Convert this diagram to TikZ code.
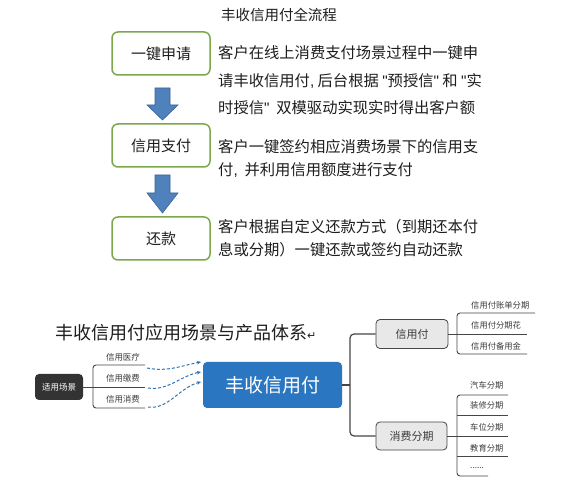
\documentclass[tikz,border=0pt]{standalone}
\usepackage{fontspec}
\setmainfont{Noto Sans CJK SC}
\newfontfamily\qf{Liberation Sans}
\newfontfamily\symf{DejaVu Sans}
\usetikzlibrary{arrows.meta}
\definecolor{gborder}{RGB}{122,168,74}
\definecolor{barrow}{RGB}{79,129,189}
\definecolor{barrowd}{RGB}{58,100,150}
\definecolor{bigblue}{RGB}{43,118,193}
\definecolor{dashblue}{RGB}{46,117,182}
\definecolor{darkbox}{RGB}{51,51,51}
\definecolor{lgray}{RGB}{232,232,232}
\definecolor{conncol}{RGB}{70,70,70}
\definecolor{txt}{RGB}{30,30,30}
\definecolor{stxt}{RGB}{60,60,60}
\newcommand{\dq}{{\qf\symbol{34}}}
\begin{document}
\begin{tikzpicture}[x=1pt,y=-1pt,
  greenbox/.style={draw=gborder,line width=1.5pt,rounded corners=6pt,fill=white,
    minimum width=98pt,minimum height=43pt,inner sep=0pt,text=txt,font=\fontsize{15}{18}\selectfont},
  desc/.style={anchor=west,inner sep=0pt,text=txt,font=\fontsize{15.3}{18}\selectfont},
  blockarrow/.style={fill=barrow,draw=barrowd,line width=0.6pt},
  conn/.style={draw=conncol,line width=1.2pt},
  thinconn/.style={draw=conncol,line width=0.9pt},
  slabel/.style={inner sep=0pt,text=stxt,font=\fontsize{8.5}{10}\selectfont},
  rlabel/.style={anchor=west,inner sep=0pt,text=stxt,font=\fontsize{8.3}{10}\selectfont},
  graybox/.style={draw=conncol,fill=lgray,line width=0.8pt,rounded corners=4pt,inner sep=0pt,
    text=stxt,font=\fontsize{11}{13}\selectfont},
  dasharrow/.style={draw=dashblue,line width=1pt,dash pattern=on 3pt off 2pt,-{Stealth[length=4pt,width=3.5pt]}}
]
\useasboundingbox (0,0) rectangle (566,484);
\fill[white] (0,0) rectangle (566,484);

% ---------- top part ----------
\node[inner sep=0pt,text=txt,font=\fontsize{14.5}{17}\selectfont] (t1) at (279,15) {丰收信用付全流程};

\node[greenbox] (b1) at (161,53.5) {一键申请};
\node[greenbox] (b2) at (161,145.5) {信用支付};
\node[greenbox] (b3) at (161,238.5) {还款};

\draw[blockarrow] (155,88) -- (170,88) -- (170,105) -- (178,105) -- (162.5,120) -- (147,105) -- (155,105) -- cycle;
\draw[blockarrow] (155,175) -- (170,175) -- (170,193) -- (178,193) -- (162.5,213) -- (147,193) -- (155,193) -- cycle;

\node[desc] (d11) at (218,53) {客户在线上消费支付场景过程中一键申};
\node[desc] (d12) at (218,81) {请丰收信用付{\qf,} 后台根据 \dq 预授信\dq\ 和 \dq 实};
\node[desc] (d13) at (218,108) {时授信\dq\ \ 双模驱动实现实时得出客户额};
\node[desc] (d21) at (218,146.5) {客户一键签约相应消费场景下的信用支};
\node[desc] (d22) at (218,170) {付{\qf,}\ \ 并利用信用额度进行支付};
\node[desc] (d31) at (218,226.5) {客户根据自定义还款方式（到期还本付};
\node[desc] (d32) at (218,250) {息或分期）一键还款或签约自动还款};

% ---------- bottom part ----------
\node[anchor=west,inner sep=0pt,text=txt,font=\fontsize{18}{21}\selectfont] (t2) at (55,333) {丰收信用付应用场景与产品体系{\symf\fontsize{11}{12}\selectfont ↵}};

% left
\node[fill=darkbox,rounded corners=4pt,minimum width=48pt,minimum height=26pt,inner sep=0pt,
  text=white,font=\fontsize{8.5}{10}\selectfont] (scene) at (59,387) {适用场景};
\coordinate (lj) at (93,387);
\coordinate (l1) at (145,365);
\coordinate (l2) at (145,387);
\coordinate (l3) at (145,408);
\draw[thinconn] (scene.east) -- (l2);
\draw[thinconn,rounded corners=3pt] (lj) |- (l1);
\draw[thinconn,rounded corners=3pt] (lj) |- (l3);
\node[slabel] (s1) at (123,357) {信用医疗};
\node[slabel] (s2) at (123,378) {信用缴费};
\node[slabel] (s3) at (123,399) {信用消费};

\node[fill=bigblue,rounded corners=4pt,minimum width=139pt,minimum height=46pt,inner sep=0pt,
  text=white,font=\fontsize{19}{22}\selectfont] (big) at (272.5,385) {丰收信用付};

\coordinate (a1s) at (147,368);
\coordinate (a2s) at (148,388);
\coordinate (a3s) at (148,407);
\coordinate (a1e) at (201,362);
\coordinate (a2e) at (201,372);
\coordinate (a3e) at (201,382);
\draw[dasharrow] (a1s) .. controls (168,372) and (180,366) .. (a1e);
\draw[dasharrow] (a2s) .. controls (168,391) and (180,376) .. (a2e);
\draw[dasharrow] (a3s) .. controls (168,410) and (180,387) .. (a3e);

% right
\node[graybox,minimum width=72pt,minimum height=29pt] (xyf) at (412,334) {信用付};
\node[graybox,minimum width=71pt,minimum height=28pt] (xffq) at (411.5,436) {消费分期};
\coordinate (rj) at (350,385);
\draw[conn] (big.east) -- (rj);
\draw[conn,rounded corners=4pt] (xyf.west) -| (rj);
\draw[conn,rounded corners=4pt] (rj) |- (xffq.west);

% xyf bracket
\coordinate (xj) at (457,334);
\coordinate (x1) at (535,313);
\coordinate (x2) at (527,334);
\coordinate (x3) at (527,354);
\draw[thinconn] (xyf.east) -- (x2);
\draw[thinconn,rounded corners=3pt] (xj) |- (x1);
\draw[thinconn,rounded corners=3pt] (xj) |- (x3);
\node[rlabel] (xl1) at (471,305) {信用付账单分期};
\node[rlabel] (xl2) at (471,325) {信用付分期花};
\node[rlabel] (xl3) at (471,346) {信用付备用金};

% xffq bracket
\coordinate (fj) at (457,436);
\coordinate (f1) at (508,395);
\coordinate (f2) at (508,415);
\coordinate (f3) at (508,436);
\coordinate (f4) at (508,456);
\coordinate (f5) at (488,476);
\coordinate (fj2) at (457,415);
\coordinate (fj4) at (457,456);
\draw[thinconn] (xffq.east) -- (f3);
\draw[thinconn,rounded corners=3pt] (fj) |- (f1);
\draw[thinconn,rounded corners=3pt] (fj) |- (f5);
\draw[thinconn] (fj2) -- (f2);
\draw[thinconn] (fj4) -- (f4);
\node[rlabel] (fl1) at (470,385) {汽车分期};
\node[rlabel] (fl2) at (470,405) {装修分期};
\node[rlabel] (fl3) at (470,427) {车位分期};
\node[rlabel] (fl4) at (470,448) {教育分期};
\node[rlabel] (fl5) at (470,468) {......};
\end{tikzpicture}
\end{document}
